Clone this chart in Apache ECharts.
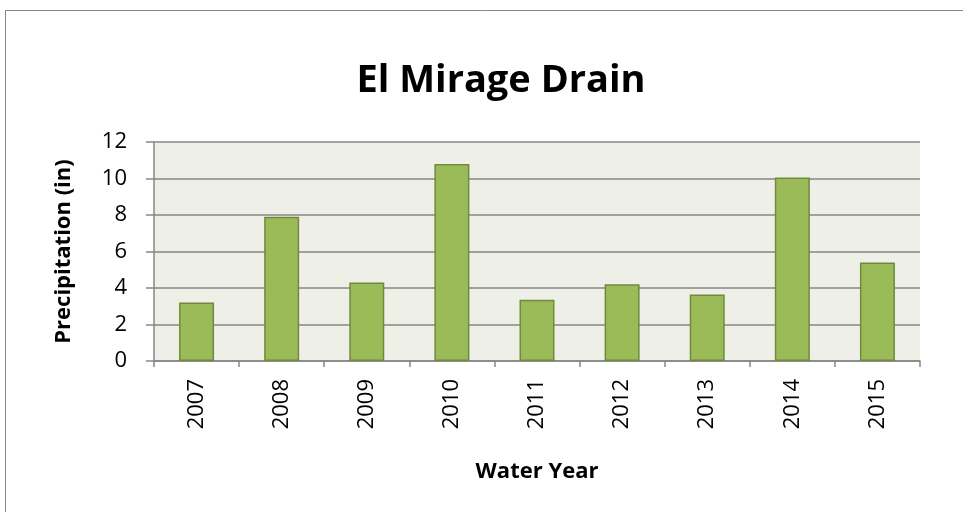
<!DOCTYPE html>
<html>
<head>
<meta charset="utf-8">
<script src="https://cdn.jsdelivr.net/npm/echarts@6/dist/echarts.min.js"></script>
<style>
  html, body { margin: 0; padding: 0; background: #fff; }
  #main { width: 963px; height: 512px; }
</style>
</head>
<body>
<div id="main"></div>
<script>
var years = ['2007', '2008', '2009', '2010', '2011', '2012', '2013', '2014', '2015'];
var precip = [3.2, 7.9, 4.3, 10.8, 3.35, 4.2, 3.65, 10.05, 5.4];
var yTicks = [0, 2, 4, 6, 8, 10, 12];

var chartDom = document.getElementById('main');
var myChart = echarts.init(chartDom);
var font = 'Open Sans';

var option = {
    backgroundColor: '#fff',
    animation: false,
    title: {
        text: 'El Mirage Drain',
        left: 496,
        top: 57,
        textAlign: 'center',
        textStyle: {
            color: '#000',
            fontFamily: font,
            fontWeight: 'bold',
            fontSize: 38
        }
    },
    graphic: [
        {
            type: 'rect',
            shape: { x: 5.5, y: 10.5, width: 960, height: 510 },
            style: { fill: 'none', stroke: '#868686', lineWidth: 1 },
            silent: true
        }
    ],
    grid: {
        left: 154,
        right: 43,
        top: 142,
        bottom: 151,
        show: true,
        backgroundColor: '#eef0e8',
        borderWidth: 0
    },
    xAxis: {
        type: 'category',
        data: years,
        name: 'Water Year',
        nameLocation: 'middle',
        nameGap: 100,
        nameTextStyle: {
            color: '#000',
            fontFamily: font,
            fontWeight: 'bold',
            fontSize: 22
        },
        axisLine: { lineStyle: { color: '#868686', width: 1.5 } },
        axisTick: { show: true, length: 6, lineStyle: { color: '#868686', width: 1.5 } },
        axisLabel: {
            rotate: 90,
            margin: 18,
            color: '#000',
            fontFamily: font,
            fontSize: 22
        }
    },
    yAxis: {
        type: 'value',
        min: yTicks[0],
        max: yTicks[yTicks.length - 1],
        interval: 2,
        name: 'Precipitation (in)',
        nameLocation: 'middle',
        nameGap: 79,
        nameTextStyle: {
            color: '#000',
            fontFamily: font,
            fontWeight: 'bold',
            fontSize: 22
        },
        axisLine: { show: true, lineStyle: { color: '#868686', width: 1.5 } },
        axisTick: { show: true, length: 8, lineStyle: { color: '#868686', width: 1.5 } },
        axisLabel: {
            margin: 27,
            color: '#000',
            fontFamily: font,
            fontSize: 22
        },
        splitLine: { lineStyle: { color: '#868686', width: 1.5 } }
    },
    series: [
        {
            name: 'Precipitation',
            type: 'bar',
            data: precip,
            barWidth: 35,
            itemStyle: {
                color: '#9bbb59',
                borderColor: '#71893f',
                borderWidth: 1.5
            }
        }
    ]
};

myChart.setOption(option);
</script>
</body>
</html>
